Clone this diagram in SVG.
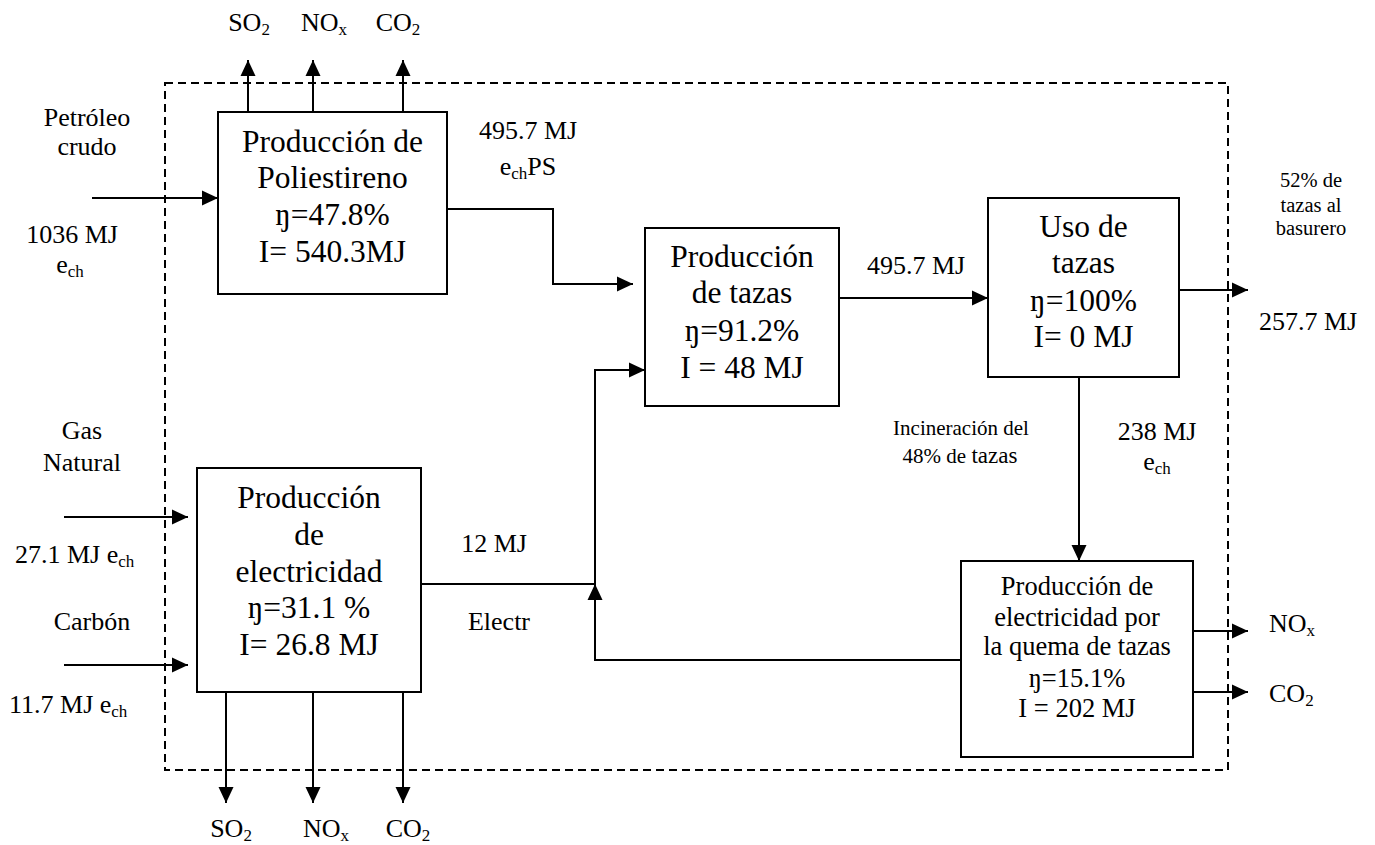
<svg xmlns="http://www.w3.org/2000/svg" width="1375" height="845" viewBox="0 0 1375 845">
  <style>
    text { font-family: "Liberation Serif", "DejaVu Serif", "Times New Roman", serif; fill: #000; }
    .box { fill: #fff; stroke: #000; stroke-width: 2; }
    .big { font-size: 31.5px; text-anchor: middle; }
    .mid { font-size: 26.5px; text-anchor: middle; }
    .lbl { font-size: 26px; }
    .c { text-anchor: middle; }
    .small { font-size: 21px; text-anchor: middle; }
    .edge { fill: none; stroke: #000; stroke-width: 2; }
    .arrow { marker-end: url(#head); }
    .boundary { fill: none; stroke: #000; stroke-width: 2; stroke-dasharray: 8 5; }
  </style>
  <defs>
    <marker id="head" viewBox="0 0 16 16" refX="16" refY="8" markerWidth="16" markerHeight="16" markerUnits="userSpaceOnUse" orient="auto">
      <path d="M0,0.5 L16,8 L0,15.5 z" fill="#000"/>
    </marker>
  </defs>

  <g font-family="Liberation Serif, DejaVu Serif, Times New Roman, serif">
  <rect id="system-boundary" class="boundary" x="165" y="83" width="1063" height="687"/>

  <g id="connectors">
    <!-- raw material inputs -->
    <line class="edge arrow" x1="92" y1="198" x2="218" y2="198"/>
    <line class="edge arrow" x1="64" y1="517" x2="188" y2="517"/>
    <line class="edge arrow" x1="64" y1="665" x2="188" y2="665"/>
    <!-- emissions from polystyrene production -->
    <line class="edge arrow" x1="248" y1="112" x2="248" y2="60"/>
    <line class="edge arrow" x1="313" y1="112" x2="313" y2="60"/>
    <line class="edge arrow" x1="403" y1="112" x2="403" y2="60"/>
    <!-- emissions from power generation -->
    <line class="edge arrow" x1="226" y1="692" x2="226" y2="803"/>
    <line class="edge arrow" x1="313" y1="692" x2="313" y2="803"/>
    <line class="edge arrow" x1="403" y1="692" x2="403" y2="803"/>
    <!-- polystyrene to cup production -->
    <polyline class="edge arrow" points="447,209 553,209 553,284 633,284"/>
    <!-- cup production to use -->
    <line class="edge arrow" x1="839" y1="298" x2="988" y2="298"/>
    <!-- landfill share -->
    <line class="edge arrow" x1="1179" y1="290" x2="1248" y2="290"/>
    <!-- incinerated share -->
    <line class="edge arrow" x1="1079" y1="377" x2="1079" y2="561"/>
    <!-- electricity feed -->
    <line class="edge" x1="421" y1="584" x2="595" y2="584"/>
    <polyline class="edge arrow" points="961,660 595,660 595,584"/>
    <polyline class="edge arrow" points="595,584 595,370 645,370"/>
    <!-- incineration emissions -->
    <line class="edge arrow" x1="1193" y1="631" x2="1248" y2="631"/>
    <line class="edge arrow" x1="1193" y1="692" x2="1248" y2="692"/>
  </g>

  <g id="node-poliestireno">
    <rect class="box" x="218" y="112" width="229" height="182"/>
    <text class="big" x="332.5" y="152">Producción de</text>
    <text class="big" x="332.5" y="188">Poliestireno</text>
    <text class="big" x="332.5" y="225">ŋ=47.8%</text>
    <text class="big" x="332.5" y="262">I= 540.3MJ</text>
  </g>

  <g id="node-tazas">
    <rect class="box" x="645" y="228" width="194" height="178"/>
    <text class="big" x="742" y="267">Producción</text>
    <text class="big" x="742" y="303">de tazas</text>
    <text class="big" x="742" y="341">ŋ=91.2%</text>
    <text class="big" x="742" y="378">I = 48 MJ</text>
  </g>

  <g id="node-uso">
    <rect class="box" x="988" y="198" width="191" height="179"/>
    <text class="big" x="1083.5" y="237">Uso de</text>
    <text class="big" x="1083.5" y="273">tazas</text>
    <text class="big" x="1083.5" y="311">ŋ=100%</text>
    <text class="big" x="1083.5" y="347">I= 0 MJ</text>
  </g>

  <g id="node-electricidad">
    <rect class="box" x="197" y="468" width="224" height="224"/>
    <text class="big" x="309" y="508">Producción</text>
    <text class="big" x="309" y="545">de</text>
    <text class="big" x="309" y="582">electricidad</text>
    <text class="big" x="309" y="618">ŋ=31.1 %</text>
    <text class="big" x="309" y="655">I= 26.8 MJ</text>
  </g>

  <g id="node-quema">
    <rect class="box" x="961" y="561" width="232" height="196"/>
    <text class="mid" x="1077" y="595">Producción de</text>
    <text class="mid" x="1077" y="626">electricidad por</text>
    <text class="mid" x="1077" y="655">la quema de tazas</text>
    <text class="mid" x="1077" y="687">ŋ=15.1%</text>
    <text class="mid" x="1077" y="717">I = 202 MJ</text>
  </g>

  <g id="labels">
    <text class="lbl c" x="87" y="126">Petróleo</text>
    <text class="lbl c" x="87" y="155">crudo</text>
    <text class="lbl c" x="72" y="243">1036 MJ</text>
    <text class="lbl c" x="70" y="273">e<tspan font-size="17" dy="4">ch</tspan></text>

    <text class="lbl c" x="249" y="31">SO<tspan font-size="17" dy="4">2</tspan></text>
    <text class="lbl c" x="324" y="31">NO<tspan font-size="17" dy="4">x</tspan></text>
    <text class="lbl c" x="398" y="31">CO<tspan font-size="17" dy="4">2</tspan></text>

    <text class="lbl c" x="528" y="139">495.7 MJ</text>
    <text class="lbl c" x="528" y="175">e<tspan font-size="17" dy="4">ch</tspan><tspan dy="-4">PS</tspan></text>
    <text class="lbl c" x="916" y="274">495.7 MJ</text>

    <text class="c" font-size="20.5" x="1311" y="187">52% de</text>
    <text class="c" font-size="20.5" x="1311" y="212">tazas al</text>
    <text class="c" font-size="20.5" x="1311" y="235">basurero</text>
    <text class="lbl c" x="1308" y="330">257.7 MJ</text>

    <text class="lbl c" x="82" y="439">Gas</text>
    <text class="lbl c" x="82" y="471">Natural</text>
    <text class="lbl" x="15" y="563">27.1 MJ e<tspan font-size="17" dy="4">ch</tspan></text>
    <text class="lbl c" x="92" y="630">Carbón</text>
    <text class="lbl" x="9" y="713">11.7 MJ e<tspan font-size="17" dy="4">ch</tspan></text>

    <text class="lbl c" x="494" y="552">12 MJ</text>
    <text class="lbl c" x="499" y="630">Electr</text>

    <text class="small" x="961" y="435">Incineración del</text>
    <text class="small" x="960" y="463">48% de <tspan font-size="23">tazas</tspan></text>
    <text class="lbl c" x="1157" y="440">238 MJ</text>
    <text class="lbl c" x="1157" y="470">e<tspan font-size="17" dy="4">ch</tspan></text>

    <text class="lbl" x="1269" y="632">NO<tspan font-size="17" dy="4">x</tspan></text>
    <text class="lbl" x="1269" y="702">CO<tspan font-size="17" dy="4">2</tspan></text>

    <text class="lbl c" x="231" y="837">SO<tspan font-size="17" dy="4">2</tspan></text>
    <text class="lbl c" x="326" y="837">NO<tspan font-size="17" dy="4">x</tspan></text>
    <text class="lbl c" x="408" y="837">CO<tspan font-size="17" dy="4">2</tspan></text>
  </g>
  </g>
</svg>
